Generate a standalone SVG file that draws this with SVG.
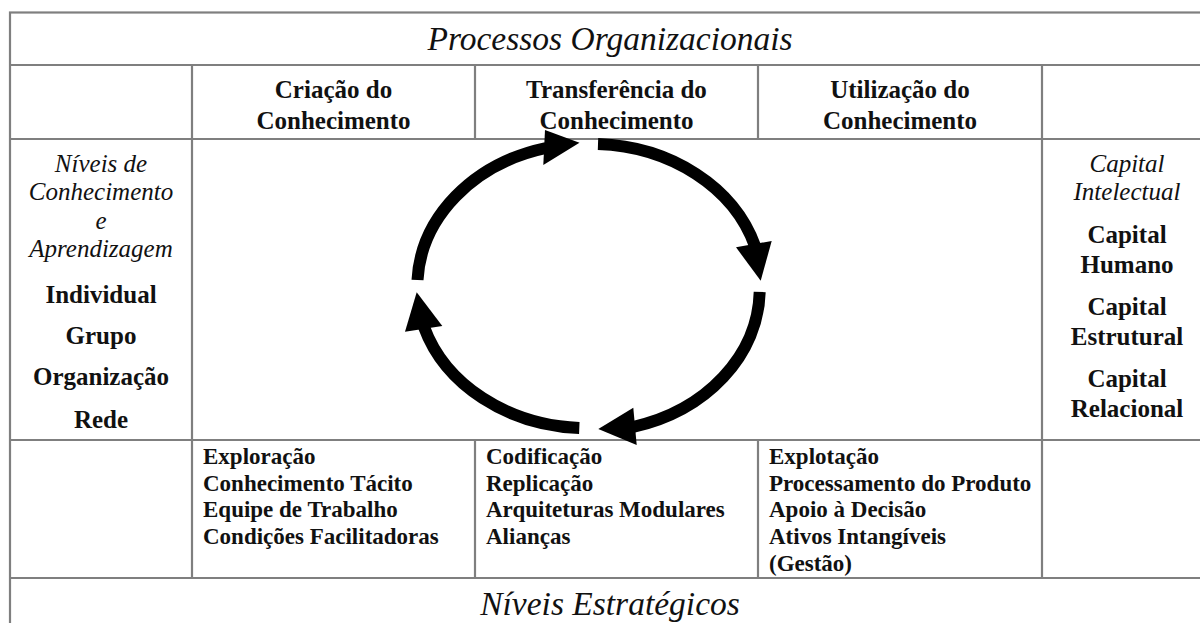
<svg xmlns="http://www.w3.org/2000/svg" width="1200" height="623" viewBox="0 0 1200 623">
<style>
.grid{stroke:#7f7f7f;stroke-width:2.2;fill:none}
.t{font-family:"Liberation Serif","Times New Roman",serif;fill:#111}
.b{font-weight:bold}
.i{font-style:italic}
.c{text-anchor:middle}
.h{font-size:25px}
.l{font-size:23px}
.big{font-size:33.5px}
.arc{fill:none;stroke:#000;stroke-width:12;stroke-linecap:butt}
.head{fill:#000}
</style>
<rect x="0" y="0" width="1200" height="623" fill="#fff"/>
<g id="grid">
<rect class="grid" x="10" y="12.5" width="1202" height="700"/>
<line class="grid" x1="10" y1="65" x2="1212" y2="65"/>
<line class="grid" x1="10" y1="139" x2="1212" y2="139"/>
<line class="grid" x1="10" y1="440" x2="1212" y2="440"/>
<line class="grid" x1="10" y1="578" x2="1212" y2="578"/>
<line class="grid" x1="192" y1="65" x2="192" y2="578"/>
<line class="grid" x1="1042" y1="65" x2="1042" y2="578"/>
<line class="grid" x1="475" y1="65" x2="475" y2="139"/>
<line class="grid" x1="758" y1="65" x2="758" y2="139"/>
<line class="grid" x1="475" y1="440" x2="475" y2="578"/>
<line class="grid" x1="758" y1="440" x2="758" y2="578"/>
</g>
<g id="processos">
<text class="t i c big" x="610" y="50">Processos Organizacionais</text>
</g>
<g id="criacao">
<text class="t b c h" x="333.5" y="98">Criação do</text>
<text class="t b c h" x="333.5" y="129">Conhecimento</text>
</g>
<g id="transferencia">
<text class="t b c h" x="616.5" y="98">Transferência do</text>
<text class="t b c h" x="616.5" y="129">Conhecimento</text>
</g>
<g id="utilizacao">
<text class="t b c h" x="900" y="98">Utilização do</text>
<text class="t b c h" x="900" y="129">Conhecimento</text>
</g>
<g id="niveis-conhecimento">
<text class="t i c h" x="101" y="172">Níveis de</text>
<text class="t i c h" x="101" y="200">Conhecimento</text>
<text class="t i c h" x="101" y="229">e</text>
<text class="t i c h" x="101" y="257">Aprendizagem</text>
<text class="t b c h" x="101" y="303">Individual</text>
<text class="t b c h" x="101" y="344">Grupo</text>
<text class="t b c h" x="101" y="385">Organização</text>
<text class="t b c h" x="101" y="428">Rede</text>
</g>
<g id="capital-intelectual">
<text class="t i c h" x="1127" y="172">Capital</text>
<text class="t i c h" x="1127" y="200">Intelectual</text>
<text class="t b c h" x="1127" y="243">Capital</text>
<text class="t b c h" x="1127" y="273">Humano</text>
<text class="t b c h" x="1127" y="315">Capital</text>
<text class="t b c h" x="1127" y="345">Estrutural</text>
<text class="t b c h" x="1127" y="387">Capital</text>
<text class="t b c h" x="1127" y="417">Relacional</text>
</g>
<g id="exploracao">
<text class="t b l" x="203" y="464">Exploração</text>
<text class="t b l" x="203" y="490.7">Conhecimento Tácito</text>
<text class="t b l" x="203" y="517.4">Equipe de Trabalho</text>
<text class="t b l" x="203" y="544">Condições Facilitadoras</text>
</g>
<g id="codificacao">
<text class="t b l" x="486" y="464">Codificação</text>
<text class="t b l" x="486" y="490.7">Replicação</text>
<text class="t b l" x="486" y="517.4">Arquiteturas Modulares</text>
<text class="t b l" x="486" y="544">Alianças</text>
</g>
<g id="explotacao">
<text class="t b l" x="769" y="464">Explotação</text>
<text class="t b l" x="769" y="490.7">Processamento do Produto</text>
<text class="t b l" x="769" y="517.4">Apoio à Decisão</text>
<text class="t b l" x="769" y="544">Ativos Intangíveis</text>
<text class="t b l" x="769" y="570.8">(Gestão)</text>
</g>
<g id="niveis-estrategicos">
<text class="t i c big" x="610" y="615">Níveis Estratégicos</text>
</g>
<g id="connectors">
<path class="arc" d="M417.5,280 A171,143 0 0 1 546,148"/>
<polygon class="head" points="579.5,142.7 545,130 543.3,165"/>
<path class="arc" d="M598,144 A171,143 0 0 1 755,246"/>
<polygon class="head" points="760.7,280.7 736,247.3 771.7,241"/>
<path class="arc" d="M759.7,292 A171,143 0 0 1 633,427"/>
<polygon class="head" points="598.3,429 633.3,407.7 636.7,445"/>
<path class="arc" d="M579.3,428 A171,143 0 0 1 424,327"/>
<polygon class="head" points="416.7,292.3 405,331.7 442.3,326"/>
</g>
</svg>
